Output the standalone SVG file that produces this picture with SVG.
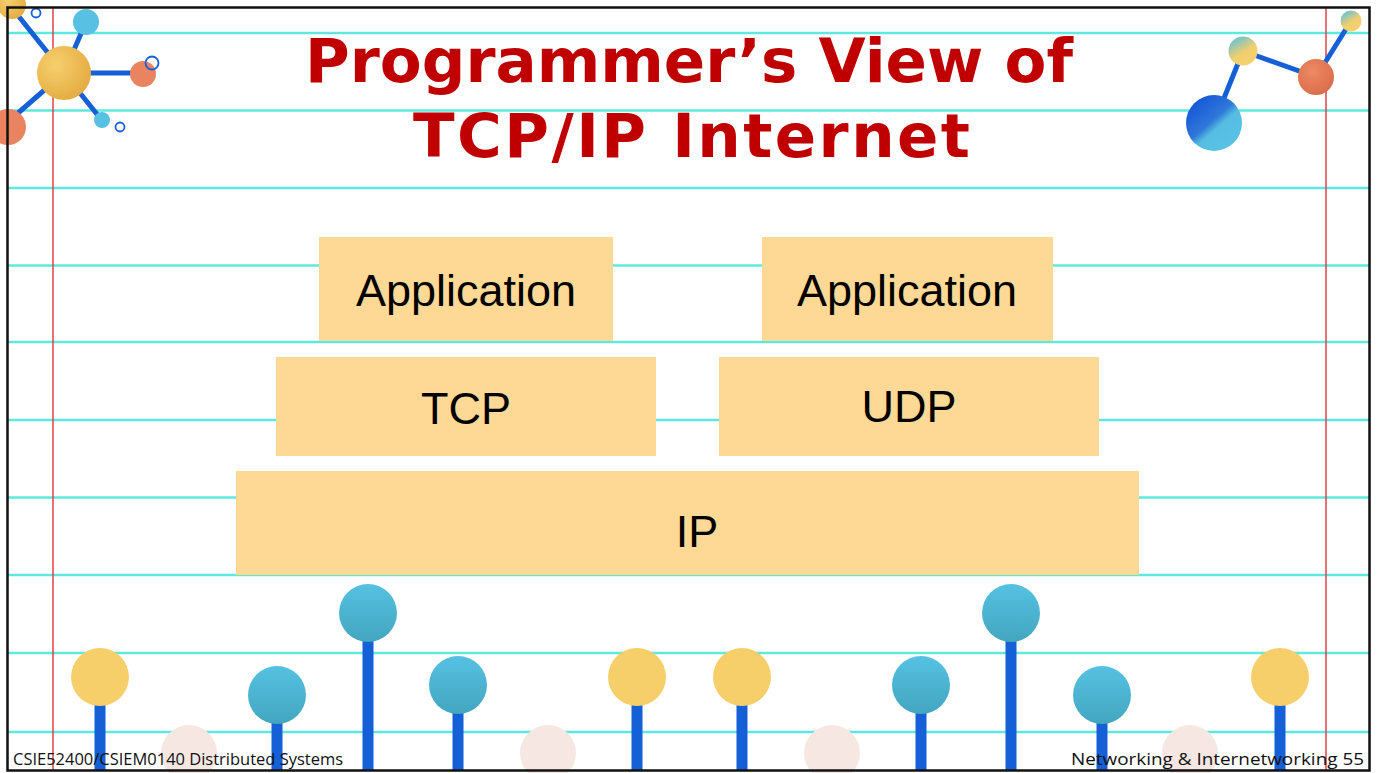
<svg xmlns="http://www.w3.org/2000/svg" width="1377" height="773" viewBox="0 0 1377 773">
  <defs>
    <style>
      .rule { stroke: #5fe8de; stroke-width: 2.5; }
      .margin { stroke: #e0404a; stroke-width: 1.5; }
      .stick { stroke: #1560d6; stroke-width: 11; }
      .bond { stroke: #1560d6; stroke-width: 5; stroke-linecap: round; }
      .ring { fill: none; stroke: #1a5ed8; stroke-width: 1.8; }
      .layer { fill: #fdd995; }
      .label { font-family: "Liberation Sans", Arial, sans-serif; font-size: 45px; fill: #000; text-anchor: middle; }
      .title { font-family: "DejaVu Sans", Verdana, sans-serif; font-weight: bold; font-size: 61px; fill: #c00000; }
      .foot { font-family: "Open Sans", "Liberation Sans", sans-serif; font-size: 16px; fill: #111; }
      .yellow { fill: #f6cf6b; }
      .pale { fill: #f6e7e2; }
      .orange { fill: #ea8360; }
      .lblue { fill: #58c0e2; }
    </style>
    <linearGradient id="tealBall" x1="0" y1="0" x2="0" y2="1">
      <stop offset="0" stop-color="#55c1e2"/>
      <stop offset="1" stop-color="#43a6bf"/>
    </linearGradient>
    <linearGradient id="bigBall" x1="0.15" y1="0.1" x2="0.85" y2="0.9">
      <stop offset="0" stop-color="#1556d8"/>
      <stop offset="0.45" stop-color="#2f78d8"/>
      <stop offset="0.6" stop-color="#55bde2"/>
      <stop offset="1" stop-color="#58c3e4"/>
    </linearGradient>
    <linearGradient id="mixBall" x1="0.2" y1="0" x2="0.8" y2="1">
      <stop offset="0" stop-color="#5cc0e0"/>
      <stop offset="0.55" stop-color="#f2cf6e"/>
      <stop offset="1" stop-color="#f5d070"/>
    </linearGradient>
    <radialGradient id="goldBall" cx="0.35" cy="0.35" r="0.75">
      <stop offset="0" stop-color="#f6d06e"/>
      <stop offset="1" stop-color="#e3a93e"/>
    </radialGradient>
    <radialGradient id="rustBall" cx="0.4" cy="0.35" r="0.7">
      <stop offset="0" stop-color="#ee8a62"/>
      <stop offset="1" stop-color="#d96c4a"/>
    </radialGradient>
  </defs>

  <!-- paper -->
  <rect x="0" y="0" width="1377" height="773" fill="#ffffff"/>
  <g id="paper-lines">
    <line class="rule" x1="8" y1="33" x2="1369" y2="33"/>
    <line class="rule" x1="8" y1="110.5" x2="1369" y2="110.5"/>
    <line class="rule" x1="8" y1="188" x2="1369" y2="188"/>
    <line class="rule" x1="8" y1="265.5" x2="1369" y2="265.5"/>
    <line class="rule" x1="8" y1="342" x2="1369" y2="342"/>
    <line class="rule" x1="8" y1="420" x2="1369" y2="420"/>
    <line class="rule" x1="8" y1="497.5" x2="1369" y2="497.5"/>
    <line class="rule" x1="8" y1="575" x2="1369" y2="575"/>
    <line class="rule" x1="8" y1="653" x2="1369" y2="653"/>
    <line class="rule" x1="8" y1="732" x2="1369" y2="732"/>
    <line class="margin" x1="53" y1="8" x2="53" y2="771"/>
    <line class="margin" x1="1326" y1="8" x2="1326" y2="771"/>
  </g>

  <!-- top-left molecule -->
  <g id="molecule-left">
    <line class="bond" x1="64" y1="73" x2="12" y2="8"/>
    <line class="bond" x1="64" y1="73" x2="86" y2="22"/>
    <line class="bond" x1="64" y1="73" x2="140" y2="73"/>
    <line class="bond" x1="64" y1="73" x2="100" y2="118"/>
    <line class="bond" x1="64" y1="73" x2="10" y2="120"/>
    <circle cx="12" cy="5" r="14" fill="url(#goldBall)"/>
    <circle cx="86" cy="22" r="13" class="lblue"/>
    <circle cx="143" cy="74" r="13" class="orange"/>
    <circle cx="102" cy="120" r="8" class="lblue"/>
    <circle cx="8" cy="127" r="18" class="orange"/>
    <circle cx="64" cy="73" r="27" fill="url(#goldBall)"/>
    <circle cx="36" cy="13" r="4.5" class="ring"/>
    <circle cx="152" cy="63" r="6.5" class="ring"/>
    <circle cx="120" cy="127" r="4.5" class="ring"/>
  </g>

  <!-- top-right molecule -->
  <g id="molecule-right">
    <line class="bond" x1="1214" y1="123" x2="1243" y2="51"/>
    <line class="bond" x1="1243" y1="51" x2="1316" y2="77"/>
    <line class="bond" x1="1316" y1="77" x2="1351" y2="21"/>
    <circle cx="1243" cy="51" r="14.5" fill="url(#mixBall)"/>
    <circle cx="1351" cy="21" r="10.5" fill="url(#mixBall)"/>
    <circle cx="1316" cy="77" r="18" fill="url(#rustBall)"/>
    <circle cx="1214" cy="123" r="28" fill="url(#bigBall)"/>
  </g>

  <!-- title -->
  <g id="title">
    <text class="title" x="305" y="82" textLength="768">Programmer’s View of</text>
    <text class="title" x="413" y="157" textLength="557">TCP/IP Internet</text>
  </g>

  <!-- protocol layers -->
  <g id="app-left">
    <rect class="layer" x="319" y="237" width="294" height="104"/>
    <text class="label" x="466" y="306">Application</text>
  </g>
  <g id="app-right">
    <rect class="layer" x="762" y="237" width="291" height="104"/>
    <text class="label" x="907" y="306">Application</text>
  </g>
  <g id="tcp">
    <rect class="layer" x="276" y="357" width="380" height="99"/>
    <text class="label" x="466" y="424">TCP</text>
  </g>
  <g id="udp">
    <rect class="layer" x="719" y="357" width="380" height="99"/>
    <text class="label" x="909" y="422">UDP</text>
  </g>
  <g id="ip">
    <rect class="layer" x="236" y="471" width="903" height="104"/>
    <text class="label" x="697" y="547">IP</text>
  </g>

  <!-- bottom lollipops -->
  <g id="lollipops">
    <circle cx="189" cy="753" r="28" class="pale"/>
    <circle cx="548" cy="753" r="28" class="pale"/>
    <circle cx="832" cy="753" r="28" class="pale"/>
    <circle cx="1190" cy="753" r="28" class="pale"/>
    <line class="stick" x1="100" y1="677" x2="100" y2="771"/>
    <line class="stick" x1="277" y1="695" x2="277" y2="771"/>
    <line class="stick" x1="368" y1="613" x2="368" y2="771"/>
    <line class="stick" x1="458" y1="685" x2="458" y2="771"/>
    <line class="stick" x1="637" y1="677" x2="637" y2="771"/>
    <line class="stick" x1="742" y1="677" x2="742" y2="771"/>
    <line class="stick" x1="921" y1="685" x2="921" y2="771"/>
    <line class="stick" x1="1011" y1="613" x2="1011" y2="771"/>
    <line class="stick" x1="1102" y1="695" x2="1102" y2="771"/>
    <line class="stick" x1="1280" y1="677" x2="1280" y2="771"/>
    <circle cx="100" cy="677" r="29" class="yellow"/>
    <circle cx="277" cy="695" r="29" fill="url(#tealBall)"/>
    <circle cx="368" cy="613" r="29" fill="url(#tealBall)"/>
    <circle cx="458" cy="685" r="29" fill="url(#tealBall)"/>
    <circle cx="637" cy="677" r="29" class="yellow"/>
    <circle cx="742" cy="677" r="29" class="yellow"/>
    <circle cx="921" cy="685" r="29" fill="url(#tealBall)"/>
    <circle cx="1011" cy="613" r="29" fill="url(#tealBall)"/>
    <circle cx="1102" cy="695" r="29" fill="url(#tealBall)"/>
    <circle cx="1280" cy="677" r="29" class="yellow"/>
  </g>

  <!-- footer -->
  <g id="footer">
    <text class="foot" x="13" y="765" textLength="330" lengthAdjust="spacingAndGlyphs">CSIE52400/CSIEM0140 Distributed Systems</text>
    <text class="foot" x="1364" y="765" text-anchor="end" font-size="18" textLength="293" lengthAdjust="spacingAndGlyphs">Networking &amp; Internetworking 55</text>
  </g>

  <!-- slide frame -->
  <rect x="7.5" y="7.5" width="1362" height="763" fill="none" stroke="#111" stroke-width="2.5"/>
</svg>
